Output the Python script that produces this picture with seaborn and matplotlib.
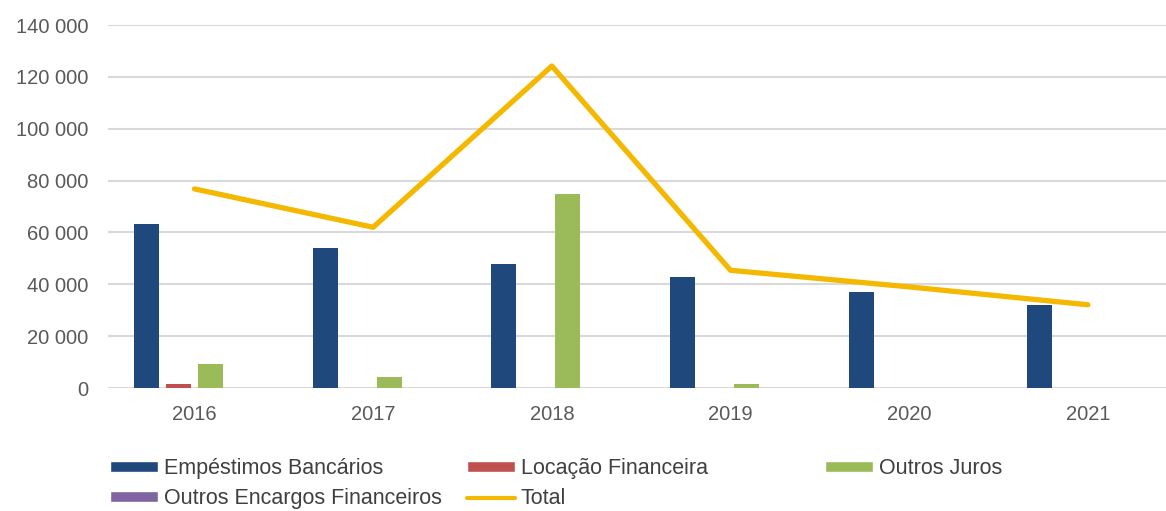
import numpy as np
import pandas as pd
import matplotlib
matplotlib.use("Agg")
import matplotlib.pyplot as plt
import seaborn as sns
from matplotlib.patches import Patch
from matplotlib.lines import Line2D
from matplotlib.ticker import FuncFormatter

# data
anos = ["2016", "2017", "2018", "2019", "2020", "2021"]
emprestimos = [63200, 53900, 47900, 42900, 37200, 32100]
locacao = [1500, 0, 0, 0, 0, 0]
outros_juros = [9200, 4300, 74900, 1400, 0, 0]
outros_encargos = [0, 0, 0, 0, 0, 0]
total = [76800, 62000, 124200, 45400, 39000, 32100]

series = ["Empéstimos Bancários", "Locação Financeira", "Outros Juros",
          "Outros Encargos Financeiros"]
cores = ["#1F497D", "#C0504D", "#9BBB59", "#8064A2"]
cor_total = "#F5B800"

df = pd.DataFrame({
    "ano": anos * 4,
    "serie": np.repeat(series, len(anos)),
    "valor": emprestimos + locacao + outros_juros + outros_encargos,
})
df_total = pd.DataFrame({"ano": anos, "total": total})

sns.set_theme(style="white")
plt.rcParams["font.family"] = ["Liberation Sans", "DejaVu Sans"]

fig = plt.figure(figsize=(11.66, 5.11), dpi=100)
ax = fig.add_axes([0.0926, 0.2407, 0.9074, 0.7103])

sns.barplot(data=df, x="ano", y="valor", hue="serie", order=anos,
            hue_order=series, palette=cores, width=0.716, gap=0.22,
            saturation=1, linewidth=0, legend=False, ax=ax, zorder=3)
sns.pointplot(data=df_total, x="ano", y="total", order=anos, color=cor_total,
              marker="", linewidth=3.8, errorbar=None, ax=ax, zorder=4)

ax.set_ylim(0, 140000)
ax.set_yticks(np.arange(0, 140001, 20000))
ax.set_xlim(-0.484, 5.437)
ax.yaxis.set_major_formatter(FuncFormatter(lambda v, p: f"{v:,.0f}".replace(",", " ")))
ax.grid(axis="y", color="#D9D9D9", linewidth=1.5, zorder=0)
ax.set_axisbelow(True)
for s in ax.spines.values():
    s.set_visible(False)
ax.set_xlabel("")
ax.set_ylabel("")
ax.tick_params(axis="both", length=0, labelsize=14.5, colors="#595959")
ax.tick_params(axis="x", pad=12)
ax.tick_params(axis="y", pad=14)

# legend: three columns placed like the original
h_emp = Patch(facecolor=cores[0], label=series[0])
h_loc = Patch(facecolor=cores[1], label=series[1])
h_oj = Patch(facecolor=cores[2], label=series[2])
h_oef = Patch(facecolor=cores[3], label=series[3])
h_tot = Line2D([], [], color=cor_total, linewidth=3, label="Total")

kw = dict(loc="upper left", frameon=False, fontsize=15.5, borderpad=0,
          borderaxespad=0, handlelength=2.25, handleheight=0.45,
          handletextpad=0.25, labelspacing=0.43, labelcolor="#404040")
for hs, x in [([h_emp, h_oef], 110), ([h_loc, h_tot], 467), ([h_oj], 825)]:
    fig.legend(handles=hs, bbox_to_anchor=(x / 1166, 1 - 458 / 511), **kw)

fig.savefig("out.png", dpi=100)
